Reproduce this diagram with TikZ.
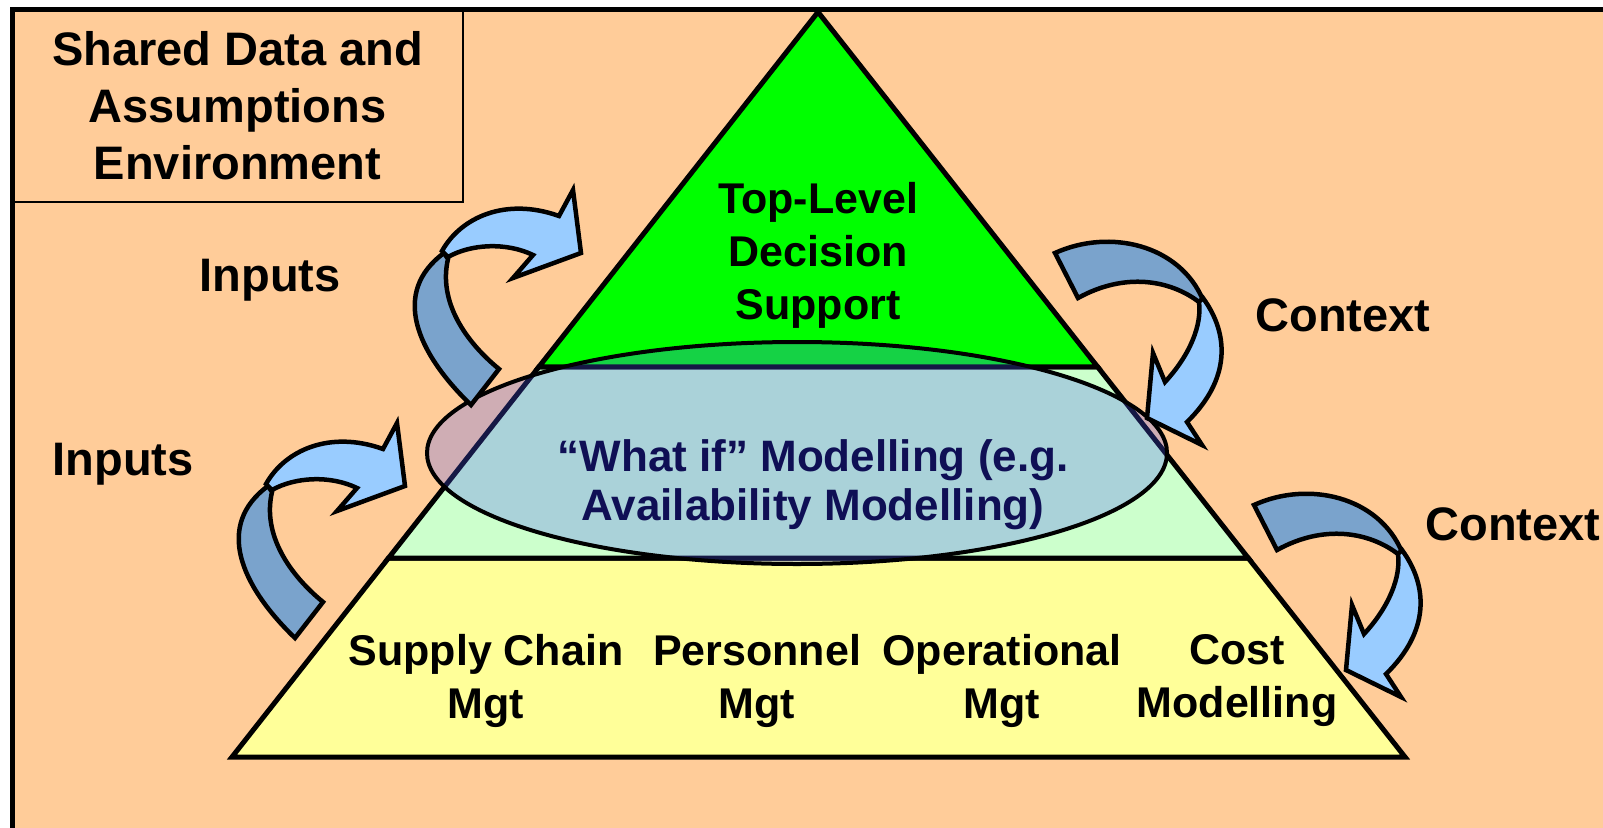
\documentclass[tikz,border=0pt]{standalone}
\usepackage{fontspec}
\setmainfont{Liberation Sans}
\usetikzlibrary{shapes.geometric, calc, positioning}
\definecolor{bgcolor}{RGB}{255,204,153}
\definecolor{topcolor}{RGB}{0,255,0}
\definecolor{midcolor}{RGB}{204,255,204}
\definecolor{basecolor}{RGB}{255,255,153}
\definecolor{arrowlight}{RGB}{153,204,255}
\definecolor{arrowdark}{RGB}{122,163,204}
\definecolor{ovalcolor}{RGB}{80,90,255}
\definecolor{ovaltext}{RGB}{15,15,85}

\begin{document}
\begin{tikzpicture}[
    x=1pt, y=-1pt,
    tier/.style={draw, line width=5},
    arrowpart/.style={draw, line width=4.5},
    sidelabel/.style={font=\fontsize{47}{57}\selectfont\bfseries, align=center},
    tierlabel/.style={font=\fontsize{43}{53}\selectfont\bfseries, align=center},
    ovallabel/.style={font=\fontsize{44}{49}\selectfont\bfseries, align=center, text=ovaltext},
    inarrow/.pic={
        \filldraw[arrowpart, fill=arrowdark] (27,151) .. controls (-28,98) and (-53,38) .. (0,-1)
            -- (4,5) .. controls (-6,48) and (22,88) .. (55,115) -- cycle;
        \filldraw[arrowpart, fill=arrowlight] (-2,-3) .. controls (17,-37) and (62,-57) .. (115,-38)
            -- (129,-64) -- (137,-1) -- (69,24) -- (89,1) .. controls (62,-12) and (27,-10) .. (4,3) -- cycle;
    },
    ctxarrow/.pic={
        \filldraw[arrowpart, fill=arrowdark] (-146,-47) .. controls (-91,-72) and (-21,-55) .. (2,0)
            -- (-2,2) .. controls (-31,-20) and (-76,-28) .. (-123,-2) -- cycle;
        \filldraw[arrowpart, fill=arrowlight] (2,-2) .. controls (29,35) and (29,80) .. (-14,122)
            -- (1,145) -- (-54,118) -- (-48,53) -- (-36,82) .. controls (-11,55) and (1,25) .. (-2,2) -- cycle;
    }
]

% Background
\useasboundingbox (0,0) rectangle (1603,827);
\fill[white] (0,0) rectangle (1603,827);
\draw[line width=5, fill=bgcolor] (12.5,9.5) rectangle (1650,870);

% Title box
\node[draw, line width=2, outer sep=0, anchor=north west, minimum width=450, minimum height=192.5, sidelabel] (shared) at (12.5,9.5) {Shared Data and\\Assumptions\\Environment};

% Pyramid
\coordinate (apex) at (818,12);
\coordinate (bl) at (232,757);
\coordinate (br) at (1405,757);
\coordinate (tl) at ($(apex)!0.4765!(bl)$);
\coordinate (tr) at ($(apex)!0.4765!(br)$);
\coordinate (ml) at ($(apex)!0.7329!(bl)$);
\coordinate (mr) at ($(apex)!0.7329!(br)$);

\draw[tier, fill=basecolor] (ml) -- (mr) -- (br) -- (bl) -- cycle;
\draw[tier, fill=midcolor] (tl) -- (tr) -- (mr) -- (ml) -- cycle;
\draw[tier, fill=topcolor] (apex) -- (tr) -- (tl) -- cycle;

% Oval
\node[ellipse, draw, line width=4, fill=ovalcolor, fill opacity=0.27, minimum width=740, minimum height=222] (whatif) at (797,453) {};

% Labels
\node[tierlabel] (toplevel) at (818,255) {Top-Level\\Decision\\Support};
\node[ovallabel] (whatiftext) at (813,485) {“What if” Modelling (e.g.\\Availability Modelling)};
\node[tierlabel] (supply) at (486,681) {Supply Chain\\Mgt};
\node[tierlabel] (personnel) at (757,681) {Personnel\\Mgt};
\node[tierlabel] (operational) at (1002,681) {Operational\\Mgt};
\node[tierlabel] (cost) at (1237,681) {Cost\\Modelling};

\node[sidelabel] (inputs1) at (270,280) {Inputs};
\node[sidelabel] (inputs2) at (123,464) {Inputs};
\node[sidelabel] (context1) at (1343,315) {Context};
\node[sidelabel] (context2) at (1513,524) {Context};

% Arrows
\pic at (268,487) {inarrow};
\pic at (444,254) {inarrow};
\pic at (1201,300) {ctxarrow};
\pic at (1400,552) {ctxarrow};

\end{tikzpicture}
\end{document}
